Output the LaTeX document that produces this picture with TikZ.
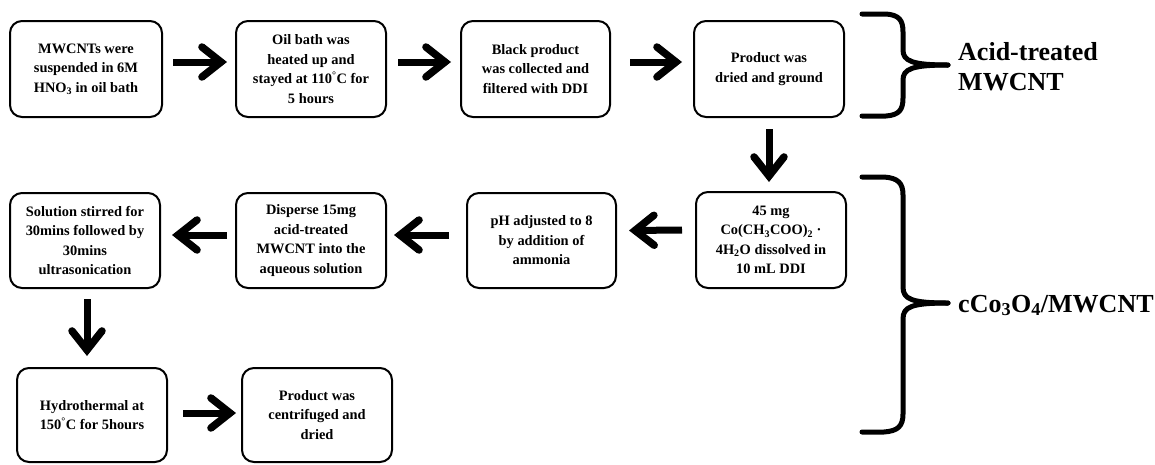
\documentclass[tikz,border=0pt]{standalone}
\usepackage{fontspec}
\setmainfont{Liberation Serif}
\usetikzlibrary{arrows.meta,calc}
\begin{document}
\begin{tikzpicture}[x=1pt,y=-1pt,
  stepbox/.style={draw=black,line width=2pt,rounded corners=12pt,align=center,
    inner sep=0pt,font=\bfseries\fontsize{14.4}{19.5}\selectfont},
  bigarrow/.style={line width=7pt,-{Straight Barb[length=19pt,width=30pt,line width=7.5pt,line cap=round]}},
  bracket/.style={line width=5pt,line cap=round,line join=round},
  grouplabel/.style={font=\bfseries\fontsize{26}{30}\selectfont,align=left,inner sep=0pt}]
\useasboundingbox (0,0) rectangle (1155,464);
% row 1
\node[stepbox,minimum width=152pt,minimum height=96pt] (b1) at (86,69) {MWCNTs were\\suspended in 6M\\HNO\textsubscript{3} in oil bath};
\node[stepbox,minimum width=150pt,minimum height=96pt] (b2) at (311,69) {Oil bath was\\heated up and\\stayed at 110\textsuperscript{°}C for\\5 hours};
\node[stepbox,minimum width=149pt,minimum height=96pt] (b3) at (535.5,69) {Black product\\was collected and\\filtered with DDI};
\node[stepbox,minimum width=150pt,minimum height=96pt] (b4) at (769,69) {Product was\\dried and ground};
% row 2
\node[stepbox,minimum width=150pt,minimum height=95pt] (c1) at (85,240.5) {Solution stirred for\\30mins followed by\\30mins\\ultrasonication};
\node[stepbox,minimum width=150pt,minimum height=95pt] (c2) at (311,240.5) {Disperse 15mg\\acid-treated\\MWCNT into the\\aqueous solution};
\node[stepbox,minimum width=149pt,minimum height=95pt] (c3) at (541.5,240.5) {pH adjusted to 8\\by addition of\\ammonia};
\node[stepbox,minimum width=150pt,minimum height=96pt] (c4) at (771,240) {45 mg\\Co(CH\textsubscript{3}COO)\textsubscript{2} ·\\4H\textsubscript{2}O dissolved in\\10 mL DDI};
% row 3
\node[stepbox,minimum width=150pt,minimum height=94pt] (d1) at (92,415) {Hydrothermal at\\150\textsuperscript{°}C for 5hours};
\node[stepbox,minimum width=150pt,minimum height=94pt] (d2) at (317,415) {Product was\\centrifuged and\\dried};
% arrows
\draw[bigarrow] ($(b1.east)+(10,-7)$) -- ($(b2.west)+(-8,-7)$);
\draw[bigarrow] ($(b2.east)+(11,-7)$) -- ($(b3.west)+(-9,-7)$);
\draw[bigarrow] ($(b3.east)+(19,-7)$) -- ($(b4.west)+(-11,-7)$);
\draw[bigarrow] ($(b4.south)+(0,11)$) -- ($(c4.north)+(-2,-9)$);
\draw[bigarrow] ($(c4.west)+(-13,-10)$) -- ($(c3.east)+(12,-10)$);
\draw[bigarrow] ($(c3.west)+(-17,-5.5)$) -- ($(c2.east)+(7,-5.5)$);
\draw[bigarrow] ($(c2.west)+(-8,-5.5)$) -- ($(c1.east)+(11,-5.5)$);
\draw[bigarrow] ($(c1.south)+(2,10)$) -- ($(d1.north)+(-5,-11)$);
\draw[bigarrow] ($(d1.east)+(15,-2)$) -- ($(d2.west)+(-5,-2)$);
% braces
\coordinate (t1) at (948,65);
\draw[bracket] (862,14) -- (886,14) .. controls (899,15) and (903,20) .. (903,32) -- (903,50) .. controls (903,61) and (912,65) .. (t1);
\draw[bracket] (862,116) -- (886,116) .. controls (899,115) and (903,110) .. (903,98) -- (903,80) .. controls (903,69) and (912,65) .. (t1);
\coordinate (t2) at (948,303);
\draw[bracket] (862,177) -- (884,177) .. controls (898,178) and (903,183) .. (903,195) -- (903,287) .. controls (903,299) and (911,303) .. (t2);
\draw[bracket] (862,432) -- (884,432) .. controls (898,431) and (903,426) .. (903,414) -- (903,319) .. controls (903,307) and (911,303) .. (t2);
\node[grouplabel,anchor=west] (l1) at (958,67) {Acid-treated\\MWCNT};
\node[grouplabel,anchor=base west] (l2) at (958,312) {cCo\textsubscript{3}O\textsubscript{4}/MWCNT};
\end{tikzpicture}
\end{document}
